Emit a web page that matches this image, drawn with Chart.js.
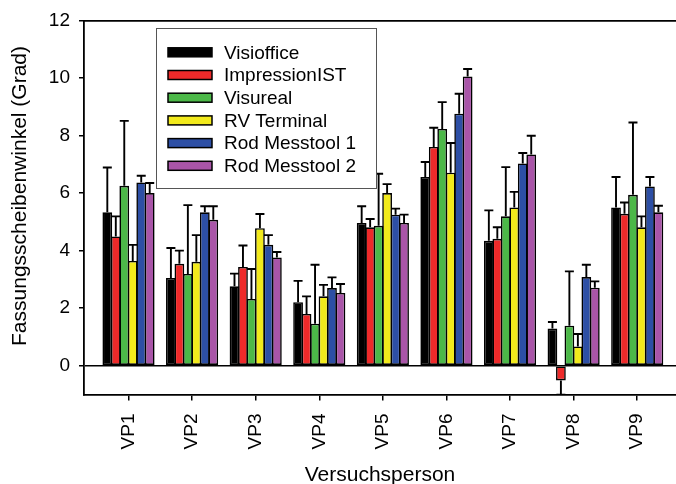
<!DOCTYPE html>
<html>
<head>
<meta charset="utf-8">
<script src="https://cdn.jsdelivr.net/npm/chart.js@4.4.1/dist/chart.umd.min.js"></script>
<style>
html,body{margin:0;padding:0;background:#fff;}
#wrap{width:676px;height:484px;position:relative;}
</style>
</head>
<body>
<div id="wrap"><canvas id="c" width="676" height="484"></canvas></div>
<script>
// ---- data ----
const categories = ['VP1','VP2','VP3','VP4','VP5','VP6','VP7','VP8','VP9'];
const seriesNames = ['Visioffice','ImpressionIST','Visureal','RV Terminal','Rod Messtool 1','Rod Messtool 2'];
const visioffice    = [5.33, 3.05, 2.76, 2.21, 4.96, 6.56, 4.34, 1.29, 5.50];
const impressionIST = [4.49, 3.54, 3.43, 1.80, 4.81, 7.60, 4.41, -0.51, 5.28];
const visureal      = [6.25, 3.19, 2.32, 1.46, 4.86, 8.23, 5.19, 1.39, 5.94];
const rvTerminal    = [3.64, 3.61, 4.78, 2.41, 6.00, 6.71, 5.50, 0.67, 4.81];
const rodMesstool1  = [6.37, 5.33, 4.20, 2.70, 5.25, 8.76, 7.03, 3.08, 6.23];
const rodMesstool2  = [6.00, 5.07, 3.76, 2.53, 4.96, 10.05, 7.34, 2.71, 5.33];
// standard deviations (error bar lengths)
const sdVisioffice    = [1.56, 1.04, 0.44, 0.74, 0.58, 0.52, 1.06, 0.23, 1.06];
const sdImpressionIST = [0.70, 0.46, 0.75, 0.61, 0.29, 0.67, 0.40, 0.50, 0.39];
const sdVisureal      = [2.26, 2.39, 1.04, 2.05, 1.81, 0.93, 1.71, 1.89, 2.51];
const sdRvTerminal    = [0.56, 0.93, 0.49, 0.40, 0.31, 1.03, 0.54, 0.43, 0.38];
const sdRodMesstool1  = [0.23, 0.21, 0.34, 0.37, 0.21, 0.69, 0.36, 0.43, 0.33];
const sdRodMesstool2  = [0.35, 0.47, 0.19, 0.31, 0.29, 0.26, 0.65, 0.22, 0.23];
const yTicks = [0, 2, 4, 6, 8, 10, 12];
const xTitle = 'Versuchsperson';
const yTitle = 'Fassungsscheibenwinkel (Grad)';

const values = [visioffice, impressionIST, visureal, rvTerminal, rodMesstool1, rodMesstool2];
const sds = [sdVisioffice, sdImpressionIST, sdVisureal, sdRvTerminal, sdRodMesstool1, sdRodMesstool2];
const colors = ['#000000', '#ee2a2a', '#4cb848', '#f2ea1c', '#2d4fa5', '#a955a8'];
const FONT = "'Liberation Sans', Arial, sans-serif";

const datasets = values.map((arr, k) => ({
  label: seriesNames[k],
  data: arr.map((v, i) => ({x: i + 1, y: v})),
  sd: sds[k],
  backgroundColor: colors[k],
  borderColor: '#000',
  borderWidth: 1.6,
  borderSkipped: false,
  barPercentage: 1.15,
  categoryPercentage: 0.80
}));

const errorBars = {
  id: 'errorBars',
  afterDatasetsDraw(chart) {
    const ctx = chart.ctx, y = chart.scales.y, a = chart.chartArea;
    ctx.save();
    ctx.beginPath();
    ctx.rect(a.left, a.top, a.right - a.left, a.bottom - a.top);
    ctx.clip();
    ctx.strokeStyle = '#000';
    ctx.lineWidth = 1.9;
    chart.data.datasets.forEach((ds, k) => {
      const meta = chart.getDatasetMeta(k);
      meta.data.forEach((bar, i) => {
        const v = ds.data[i].y, s = ds.sd[i];
        const end = v >= 0 ? v + s : v - s;
        const y0 = y.getPixelForValue(v), y1 = y.getPixelForValue(end);
        const half = 4.5;
        ctx.beginPath();
        ctx.moveTo(bar.x, y0); ctx.lineTo(bar.x, y1);
        ctx.moveTo(bar.x - half, y1); ctx.lineTo(bar.x + half, y1);
        ctx.stroke();
      });
    });
    ctx.restore();
  }
};

const boxLegend = {
  id: 'boxLegend',
  afterDraw(chart) {
    const ctx = chart.ctx;
    const bx = 156, by = 28, bw = 220, bh = 160;
    ctx.save();
    ctx.fillStyle = '#fff';
    ctx.fillRect(bx, by, bw, bh);
    ctx.strokeStyle = '#555';
    ctx.lineWidth = 1;
    ctx.strokeRect(bx + 0.5, by + 0.5, bw, bh);
    ctx.font = '19px ' + FONT;
    ctx.textBaseline = 'middle';
    chart.data.datasets.forEach((ds, k) => {
      const cy = 52.3 + k * 22.7;
      ctx.fillStyle = ds.backgroundColor;
      ctx.fillRect(168, cy - 4.5, 44, 9);
      ctx.strokeStyle = '#000';
      ctx.lineWidth = 1.5;
      ctx.strokeRect(168, cy - 4.5, 44, 9);
      ctx.fillStyle = '#000';
      ctx.fillText(ds.label, 224, cy + 1);
    });
    ctx.restore();
  }
};

const yAxisTitle = {
  id: 'yAxisTitle',
  afterDraw(chart) {
    const ctx = chart.ctx;
    ctx.save();
    ctx.translate(20, 196);
    ctx.rotate(-Math.PI / 2);
    ctx.font = '21px ' + FONT;
    ctx.fillStyle = '#000';
    ctx.textAlign = 'center';
    ctx.textBaseline = 'middle';
    ctx.fillText(yTitle, 0, 0);
    ctx.restore();
  }
};

new Chart(document.getElementById('c'), {
  type: 'bar',
  data: { datasets },
  plugins: [errorBars, boxLegend, yAxisTitle],
  options: {
    responsive: false,
    animation: false,
    layout: { padding: { left: 8, right: 0, top: 0, bottom: 0 } },
    plugins: { legend: { display: false }, tooltip: { enabled: false } },
    scales: {
      x: {
        type: 'linear',
        position: 'bottom',
        offset: false,
        min: 0.30,
        max: 9.61,
        afterBuildTicks: s => { s.ticks = categories.map((c, i) => ({value: i + 1})); },
        afterFit: s => { s.height = 89.5; },
        ticks: {
          callback: v => categories[v - 1],
          minRotation: 90, maxRotation: 90,
          autoSkip: false,
          padding: 13,
          color: '#000',
          font: { family: FONT, size: 19 }
        },
        grid: { display: true, offset: false, drawOnChartArea: false, tickColor: '#000', tickLength: 6, lineWidth: 1.5 },
        border: { display: true, color: '#000', width: 1.8 },
        title: { display: true, text: xTitle, color: '#000', font: { family: FONT, size: 21, lineHeight: 0.8 }, padding: 0 }
      },
      xTop: {
        type: 'linear',
        position: 'top',
        offset: false,
        min: 0, max: 1,
        afterFit: s => { s.height = 20; },
        ticks: { display: false },
        grid: { display: false },
        border: { display: true, color: '#000', width: 1.8 }
      },
      y: {
        type: 'linear',
        min: -1,
        max: 12,
        afterBuildTicks: s => { s.ticks = yTicks.map(v => ({value: v})); },
        afterFit: s => { s.width = 76; },
        ticks: { padding: 9, color: '#000', font: { family: FONT, size: 19 } },
        grid: {
          color: c => (c.tick && c.tick.value === 0) ? '#000' : 'rgba(0,0,0,0)',
          tickColor: '#000', tickLength: 5, lineWidth: 1.5
        },
        border: { display: true, color: '#000', width: 1.8 },
        title: { display: false, text: yTitle }
      }
    }
  }
});
</script>
</body>
</html>
